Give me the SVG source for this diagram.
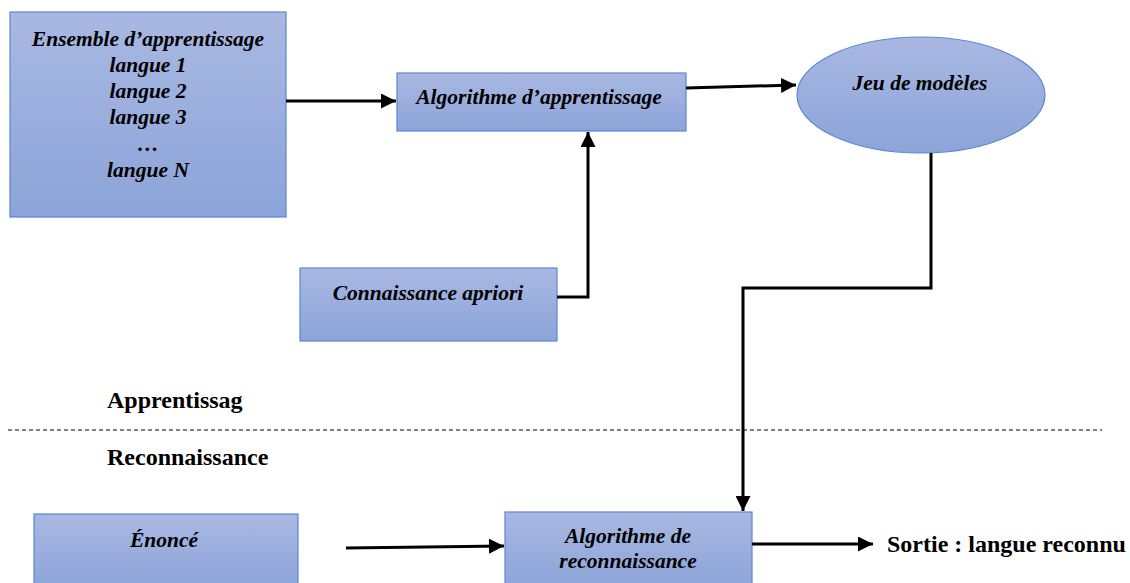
<svg xmlns="http://www.w3.org/2000/svg" width="1130" height="583" viewBox="0 0 1130 583">
  <style>
    .box { fill: url(#blueFill); stroke: #5b87d2; stroke-width: 1.2; }
    .lbl { font-family: "Liberation Serif", "Times New Roman", serif; font-weight: bold; font-style: italic; font-size: 21.5px; fill: #000; text-anchor: middle; }
    .plain { font-family: "Liberation Serif", "Times New Roman", serif; font-weight: bold; font-size: 24px; fill: #000; }
    .wire { fill: none; stroke: #000; stroke-width: 3; }
  </style>
  <defs>
    <linearGradient id="blueFill" x1="0" y1="0" x2="0" y2="1">
      <stop offset="0" stop-color="#a9b8e2"/>
      <stop offset="1" stop-color="#8ca4d9"/>
    </linearGradient>
    <marker id="head" viewBox="0 0 10 10" refX="10" refY="5" markerWidth="5" markerHeight="5" orient="auto" markerUnits="strokeWidth">
      <path d="M0,0 L10,5 L0,10 Z" fill="#000"/>
    </marker>
  </defs>
  <rect width="1130" height="583" fill="#fff"/>

  <g id="ensemble">
    <rect class="box" x="10" y="12" width="276" height="205"/>
    <text class="lbl" x="148" y="46">Ensemble d’apprentissage</text>
    <text class="lbl" x="148" y="72">langue 1</text>
    <text class="lbl" x="148" y="98">langue 2</text>
    <text class="lbl" x="148" y="124">langue 3</text>
    <text class="lbl" x="148" y="151">…</text>
    <text class="lbl" x="148" y="177">langue N</text>
  </g>

  <g id="algo-apprentissage">
    <rect class="box" x="397" y="73" width="289" height="58"/>
    <text class="lbl" x="539" y="104">Algorithme d’apprentissage</text>
  </g>

  <g id="jeu-modeles">
    <ellipse class="box" cx="921" cy="95" rx="124" ry="58"/>
    <text class="lbl" x="920" y="90">Jeu de modèles</text>
  </g>

  <g id="connaissance">
    <rect class="box" x="300" y="268" width="257" height="73"/>
    <text class="lbl" x="428" y="300">Connaissance apriori</text>
  </g>

  <g id="phases">
    <text class="plain" x="107" y="408">Apprentissag</text>
    <line x1="8" y1="430" x2="1102" y2="430" stroke="#000" stroke-width="1" stroke-dasharray="4,3"/>
    <text class="plain" x="107" y="465">Reconnaissance</text>
  </g>

  <g id="enonce">
    <rect class="box" x="34" y="514" width="264" height="75"/>
    <text class="lbl" x="164" y="547">Énoncé</text>
  </g>

  <g id="algo-reconnaissance">
    <rect class="box" x="505" y="512" width="247" height="77"/>
    <text class="lbl" x="628" y="543">Algorithme de</text>
    <text class="lbl" x="628" y="568">reconnaissance</text>
  </g>

  <g id="sortie">
    <text class="plain" x="887" y="552">Sortie : langue reconnu</text>
  </g>

  <g id="connectors">
    <line class="wire" x1="286" y1="101" x2="396" y2="101" marker-end="url(#head)"/>
    <line class="wire" x1="686" y1="88" x2="796" y2="85" marker-end="url(#head)"/>
    <polyline class="wire" points="557,297 588,297 588,132" marker-end="url(#head)"/>
    <polyline class="wire" points="931,153 931,288 743,288 743,511" marker-end="url(#head)"/>
    <line class="wire" x1="346" y1="548" x2="504" y2="546" marker-end="url(#head)"/>
    <line class="wire" x1="752" y1="544" x2="873" y2="544" marker-end="url(#head)"/>
  </g>
</svg>
